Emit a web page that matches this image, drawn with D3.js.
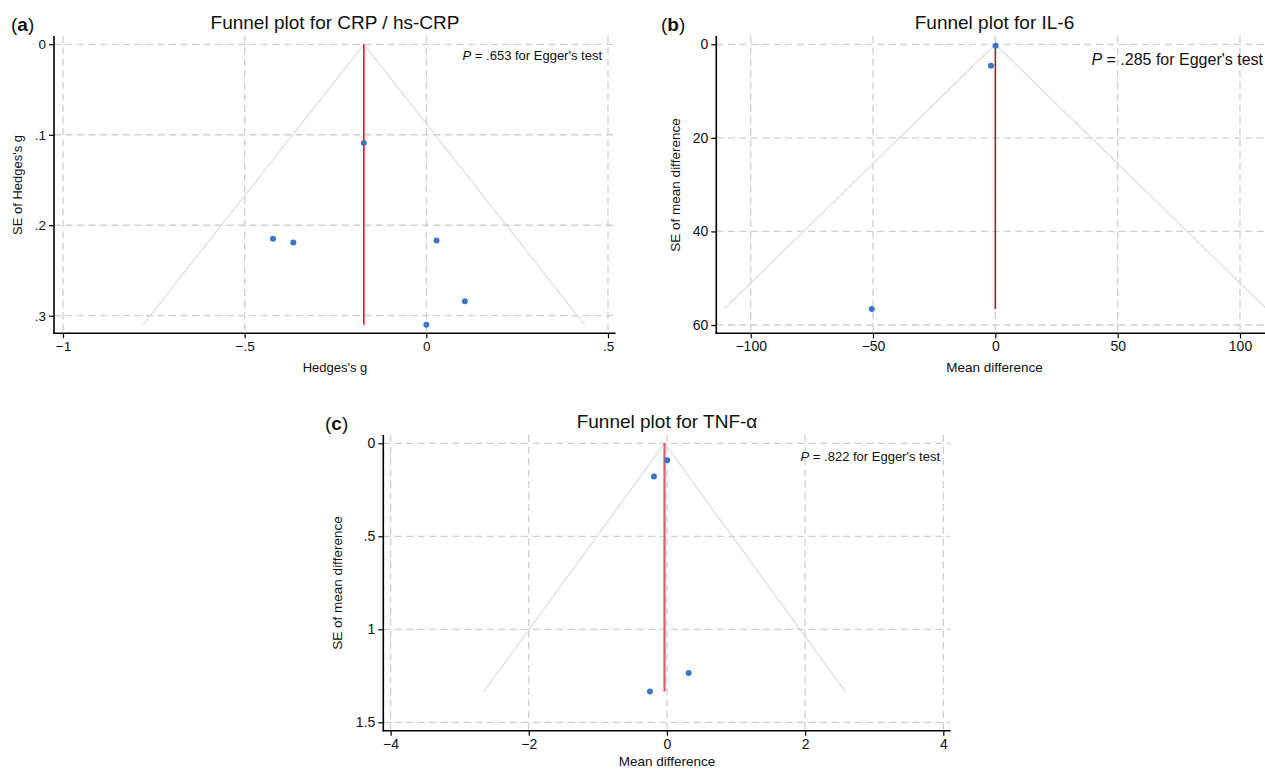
<!DOCTYPE html>
<html>
<head>
<meta charset="utf-8">
<script src="https://cdn.jsdelivr.net/npm/d3@7"></script>
<style>
  html, body { margin: 0; padding: 0; background: #fff; }
  svg { display: block; font-family: "Liberation Sans", Arial, Helvetica, sans-serif; }
</style>
</head>
<body>
<svg id="chart" width="1265" height="769"></svg>
<script>
// ---------- DATA ----------
// Panel (a) CRP / hs-CRP
const crpEffect = [-0.172, -0.422, -0.366, 0.028, 0.106, 0.0];
const crpSE     = [0.109, 0.215, 0.219, 0.217, 0.284, 0.310];
const crpPooled = -0.172;
const crpXTicks = [-1, -0.5, 0, 0.5];
const crpXTickLabels = ["\u22121", "\u2212.5", "0", ".5"];
const crpYTicks = [0, 0.1, 0.2, 0.3];
const crpYTickLabels = ["0", ".1", ".2", ".3"];
const crpP = ".653";

// Panel (b) IL-6
const il6Effect = [0.1, -1.8, -50.5];
const il6SE     = [0.3, 4.6, 56.6];
const il6Pooled = 0.0;
const il6XTicks = [-100, -50, 0, 50, 100];
const il6XTickLabels = ["\u2212100", "\u221250", "0", "50", "100"];
const il6YTicks = [0, 20, 40, 60];
const il6YTickLabels = ["0", "20", "40", "60"];
const il6P = ".285";

// Panel (c) TNF-α
const tnfEffect = [0.005, -0.188, 0.314, -0.246];
const tnfSE     = [0.091, 0.179, 1.235, 1.335];
const tnfPooled = -0.035;
const tnfXTicks = [-4, -2, 0, 2, 4];
const tnfXTickLabels = ["\u22124", "\u22122", "0", "2", "4"];
const tnfYTicks = [0, 0.5, 1, 1.5];
const tnfYTickLabels = ["0", ".5", "1", "1.5"];
const tnfP = ".822";

// ---------- DRAWING ----------
const svg = d3.select("#chart");
const GRID = "#cfcfcf", FUNNEL = "#d9d9d9", DOT = "#3f74c2";

function drawPanel(cfg) {
  const g = svg.append("g");
  const x = d3.scaleLinear().domain(cfg.xDom).range(cfg.xRange);
  const y = d3.scaleLinear().domain(cfg.yDom).range(cfg.yRange);
  const L = cfg.frame.left, R = cfg.frame.right, T = cfg.frame.top, B = cfg.frame.bottom;

  const cid = "clip" + cfg.id;
  svg.append("clipPath").attr("id", cid).append("rect")
    .attr("x", L).attr("y", T - 4).attr("width", R - L).attr("height", B - T + 4);

  // grid lines
  const grid = g.append("g").attr("stroke", GRID).attr("stroke-width", 1.3)
    .attr("stroke-dasharray", "7,4.5");
  grid.selectAll("line.h").data(cfg.yTicks).join("line")
    .attr("x1", L).attr("x2", R).attr("y1", d => y(d)).attr("y2", d => y(d));
  grid.selectAll("line.v").data(cfg.xTicks).join("line")
    .attr("class", "v")
    .attr("x1", d => x(d)).attr("x2", d => x(d)).attr("y1", T).attr("y2", B);

  const plot = g.append("g").attr("clip-path", `url(#${cid})`);
  const maxSE = d3.max(cfg.se);
  // funnel (pooled ± 1.96·SE)
  const funnel = [[cfg.pooled - 1.96 * maxSE, maxSE], [cfg.pooled, 0], [cfg.pooled + 1.96 * maxSE, maxSE]];
  plot.append("path")
    .attr("d", d3.line().x(d => x(d[0])).y(d => y(d[1]))(funnel))
    .attr("fill", "none").attr("stroke", FUNNEL).attr("stroke-width", 1.1);
  // pooled line
  plot.append("line")
    .attr("x1", x(cfg.pooled)).attr("x2", x(cfg.pooled))
    .attr("y1", y(0)).attr("y2", y(maxSE))
    .attr("stroke", cfg.redColor).attr("stroke-width", cfg.redWidth);
  // points
  plot.selectAll("circle").data(cfg.es.map((e, i) => [e, cfg.se[i]])).join("circle")
    .attr("cx", d => x(d[0])).attr("cy", d => y(d[1])).attr("r", 3)
    .attr("fill", DOT);

  // axes
  const yAxis = d3.axisLeft(y).tickValues(cfg.yTicks).tickSize(5).tickPadding(3)
    .tickFormat((d, i) => cfg.yTickLabels[i]);
  const ya = g.append("g").attr("transform", `translate(${L},0)`).call(yAxis);
  ya.select(".domain").remove();
  ya.append("line").attr("x1", 0).attr("x2", 0).attr("y1", T).attr("y2", B + 0.75)
    .attr("stroke", "#000").attr("stroke-width", 1.6);
  ya.selectAll(".tick line").attr("stroke", "#000").attr("stroke-width", 1.2);
  ya.selectAll(".tick text").attr("font-size", cfg.tickFont).attr("fill", "#111")
    .attr("font-family", "Liberation Sans, Arial, sans-serif");

  const xAxis = d3.axisBottom(x).tickValues(cfg.xTicks).tickSize(5).tickPadding(3)
    .tickFormat((d, i) => cfg.xTickLabels[i]);
  const xa = g.append("g").attr("transform", `translate(0,${B})`).call(xAxis);
  xa.select(".domain").remove();
  xa.append("line").attr("x1", L - 0.75).attr("x2", R).attr("y1", 0).attr("y2", 0)
    .attr("stroke", "#000").attr("stroke-width", 1.6);
  xa.selectAll(".tick line").attr("stroke", "#000").attr("stroke-width", 1.2);
  xa.selectAll(".tick text").attr("font-size", cfg.tickFont).attr("fill", "#111")
    .attr("font-family", "Liberation Sans, Arial, sans-serif");

  // title
  g.append("text").attr("x", cfg.titleX).attr("y", cfg.titleY).attr("text-anchor", "middle")
    .attr("font-size", 19).attr("fill", "#111").text(cfg.title);
  // panel label
  const lab = g.append("text").attr("x", cfg.labX).attr("y", cfg.labY)
    .attr("font-size", 19).attr("fill", "#111");
  lab.append("tspan").text("(");
  lab.append("tspan").attr("font-weight", "bold").text(cfg.letter);
  lab.append("tspan").text(")");
  // P annotation
  const pt = g.append("text").attr("x", cfg.pX).attr("y", cfg.pY).attr("text-anchor", "end")
    .attr("font-size", cfg.pFont).attr("fill", "#111");
  pt.append("tspan").attr("font-style", "italic").text("P");
  pt.append("tspan").text(" = " + cfg.p + " for Egger's test");
  // axis titles
  g.append("text").attr("x", cfg.titleX).attr("y", cfg.xTitleY).attr("text-anchor", "middle")
    .attr("font-size", cfg.axisFont).attr("fill", "#111").text(cfg.xTitle);
  g.append("text").attr("transform", `translate(${cfg.yTitleX},${cfg.yTitleCY}) rotate(-90)`)
    .attr("text-anchor", "middle").attr("dy", "0.35em")
    .attr("font-size", cfg.axisFont).attr("fill", "#111").text(cfg.yTitle);
}

drawPanel({
  id: "a", letter: "a", title: "Funnel plot for CRP / hs-CRP",
  es: crpEffect, se: crpSE, pooled: crpPooled,
  xTicks: crpXTicks, xTickLabels: crpXTickLabels, yTicks: crpYTicks, yTickLabels: crpYTickLabels,
  xDom: [-1, 0.5], xRange: [63, 608], yDom: [0, 0.3], yRange: [44.3, 315.7],
  frame: { left: 54, right: 615.6, top: 36, bottom: 333.3 },
  redColor: "#e3132b", redWidth: 1.6,
  tickFont: 13.5, axisFont: 13, pFont: 13, p: crpP,
  titleX: 335, titleY: 28.5, labX: 11, labY: 31, pX: 602, pY: 60,
  xTitle: "Hedges's g", xTitleY: 372, yTitle: "SE of Hedges's g", yTitleX: 17, yTitleCY: 185
});

drawPanel({
  id: "b", letter: "b", title: "Funnel plot for IL-6",
  es: il6Effect, se: il6SE, pooled: il6Pooled,
  xTicks: il6XTicks, xTickLabels: il6XTickLabels, yTicks: il6YTicks, yTickLabels: il6YTickLabels,
  xDom: [-100, 100], xRange: [750.7, 1240], yDom: [0, 60], yRange: [44.3, 325],
  frame: { left: 716.3, right: 1268, top: 36, bottom: 333.3 },
  redColor: "#b3192f", redWidth: 1.6,
  tickFont: 14, axisFont: 13.5, pFont: 16, p: il6P,
  titleX: 994.5, titleY: 28.5, labX: 661, labY: 31, pX: 1263, pY: 65,
  xTitle: "Mean difference", xTitleY: 372, yTitle: "SE of mean difference", yTitleX: 675, yTitleCY: 185
});

drawPanel({
  id: "c", letter: "c", title: "Funnel plot for TNF-\u03b1",
  es: tnfEffect, se: tnfSE, pooled: tnfPooled,
  xTicks: tnfXTicks, xTickLabels: tnfXTickLabels, yTicks: tnfYTicks, yTickLabels: tnfYTickLabels,
  xDom: [-4, 4], xRange: [390.6, 943.3], yDom: [0, 1.5], yRange: [443.3, 722.3],
  frame: { left: 383.3, right: 950.6, top: 435, bottom: 730.7 },
  redColor: "#d4606f", redWidth: 2.2,
  tickFont: 14, axisFont: 13.5, pFont: 13, p: tnfP,
  titleX: 667, titleY: 427.5, labX: 325, labY: 430, pX: 940, pY: 461,
  xTitle: "Mean difference", xTitleY: 765.5, yTitle: "SE of mean difference", yTitleX: 337, yTitleCY: 583
});
</script>
</body>
</html>
